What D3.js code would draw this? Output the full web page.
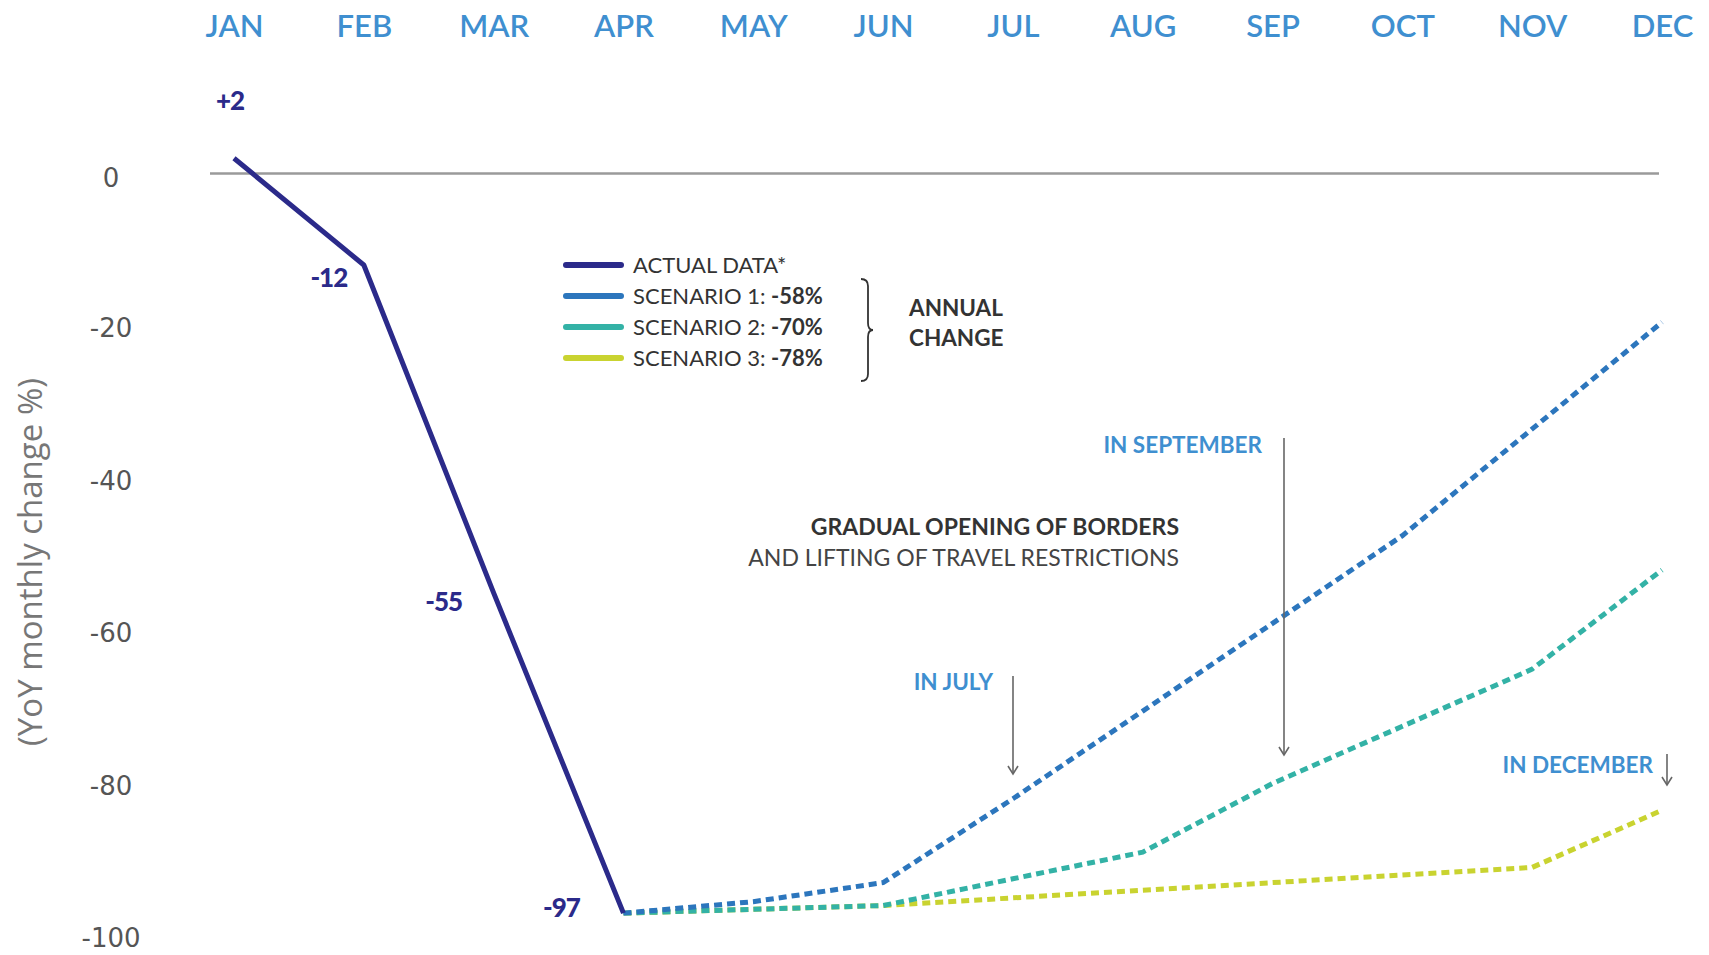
<!DOCTYPE html>
<html>
<head>
<meta charset="utf-8">
<script src="https://cdn.jsdelivr.net/npm/d3@7"></script>
<style>
  html, body { margin: 0; padding: 0; background: #fff; }
  svg { display: block; }
</style>
</head>
<body>
<svg id="chart" width="1709" height="955"></svg>
<script>
// ---- data ----
const months = ["JAN","FEB","MAR","APR","MAY","JUN","JUL","AUG","SEP","OCT","NOV","DEC"];
const actualMonths = ["JAN","FEB","MAR","APR"];
const actualValues = [2, -12, -55, -97];
const actualLabels = ["+2", "-12", "-55", "-97"];
const scenarioMonths = ["APR","MAY","JUN","JUL","AUG","SEP","OCT","NOV","DEC"];
const scenario1 = [-97, -95.5, -93, -82, -70.5, -59, -47.5, -33.5, -19.5];
const scenario2 = [-97, -96.5, -96, -92.5, -89, -80, -72.5, -65, -52];
const scenario3 = [-97, -96.5, -96, -95, -94, -93, -92, -91, -83.5];
const yTicks = [0, -20, -40, -60, -80, -100];
const legendNames = ["ACTUAL DATA*", "SCENARIO 1: ", "SCENARIO 2: ", "SCENARIO 3: "];
const legendValues = ["", "-58%", "-70%", "-78%"];
const annotations = [
  {text: "IN JULY", month: "JUL"},
  {text: "IN SEPTEMBER", month: "SEP"},
  {text: "IN DECEMBER", month: "DEC"}
];

// ---- styles ----
const C_ACTUAL = "#2b2a8a";
const C_S1 = "#2c76bd";
const C_S2 = "#33b2a6";
const C_S3 = "#c9d330";
const C_MONTH = "#3f8fd0";
const FONT = "Lato, 'Open Sans', sans-serif";

const svg = d3.select("#chart");

const x = d3.scalePoint().domain(months).range([234, 1662]);
const y = d3.scaleLinear().domain([-100, 0]).range([936, 173.5]);

// month axis on top
const xAxis = svg.append("g")
  .attr("transform", "translate(0,37)")
  .call(d3.axisTop(x).tickSize(0).tickPadding(0));
xAxis.select(".domain").remove();
xAxis.selectAll("text")
  .attr("y", 0).attr("dy", 0)
  .attr("fill", C_MONTH)
  .style("font-family", FONT)
  .style("font-size", "31px")
  .style("font-weight", "600");

// y axis labels
const yAxis = svg.append("g")
  .attr("transform", "translate(111,0)")
  .call(d3.axisLeft(y).tickValues(yTicks).tickSize(0).tickPadding(0).tickFormat(d => String(d)));
yAxis.select(".domain").remove();
yAxis.selectAll("text")
  .attr("x", 0).attr("dy", "0.42em")
  .attr("text-anchor", "middle")
  .attr("fill", "#555")
  .style("font-family", "'DejaVu Sans', sans-serif")
  .style("font-size", "26px");
yAxis.selectAll("text").each(function(d){ if (d === 0) d3.select(this).attr("dy","0.5em"); });

// y axis title
svg.append("text")
  .attr("transform", `translate(42,562) rotate(-90)`)
  .attr("text-anchor", "middle")
  .attr("fill", "#777")
  .style("font-family", "'Open Sans', sans-serif")
  .style("font-size", "33px")
  .text("(YoY monthly change %)");

// zero line
svg.append("line")
  .attr("x1", x("JAN") - 24).attr("x2", x("DEC") - 3)
  .attr("y1", y(0)).attr("y2", y(0))
  .attr("stroke", "#9a9a9a").attr("stroke-width", 2.5);

// scenario lines
const line = d3.line().x(d => x(d[0])).y(d => y(d[1]));
const scen = [
  {vals: scenario3, color: C_S3},
  {vals: scenario2, color: C_S2},
  {vals: scenario1, color: C_S1}
];
scen.forEach(s => {
  svg.append("path")
    .datum(scenarioMonths.map((m, i) => [m, s.vals[i]]))
    .attr("d", line)
    .attr("fill", "none")
    .attr("stroke", s.color)
    .attr("stroke-width", 5)
    .attr("stroke-dasharray", "8,5");
});

// actual line
svg.append("path")
  .datum(actualMonths.map((m, i) => [m, actualValues[i]]))
  .attr("d", line)
  .attr("fill", "none")
  .attr("stroke", C_ACTUAL)
  .attr("stroke-width", 5)
  .attr("stroke-linejoin", "round");

// data labels
const labelOffsets = [[-4, -48], [-35, 22], [-50, 18], [-62, 4]];
svg.selectAll(".dlabel")
  .data(actualMonths)
  .enter().append("text")
  .attr("x", (m, i) => x(m) + labelOffsets[i][0])
  .attr("y", (m, i) => y(actualValues[i]) + labelOffsets[i][1])
  .attr("text-anchor", "middle")
  .attr("fill", C_ACTUAL)
  .style("font-family", FONT)
  .style("font-size", "26px")
  .style("font-weight", "900")
  .style("letter-spacing", "-1px")
  .text((m, i) => actualLabels[i]);

// legend
const legColors = [C_ACTUAL, C_S1, C_S2, C_S3];
const leg = svg.append("g").attr("transform", "translate(566,265)");
legendNames.forEach((n, i) => {
  const g = leg.append("g").attr("transform", `translate(0,${i * 31})`);
  g.append("line").attr("x1", 0).attr("x2", 55).attr("y1", 0).attr("y2", 0)
    .attr("stroke", legColors[i]).attr("stroke-width", 6).attr("stroke-linecap", "round");
  const t = g.append("text").attr("x", 67).attr("y", 0).attr("dy", "0.36em")
    .attr("fill", "#333")
    .style("font-family", FONT)
    .style("font-size", "22px");
  t.append("tspan").text(n);
  if (legendValues[i]) t.append("tspan").style("font-weight", "bold").text(legendValues[i]);
});
// bracket
svg.append("path")
  .attr("d", "M861,279 Q868,279 868,286 L868,323 Q868,330 873,330 Q868,330 868,337 L868,374 Q868,381 861,381")
  .attr("fill", "none").attr("stroke", "#333").attr("stroke-width", 1.8);
svg.append("text")
  .attr("x", 909).attr("y", 316)
  .attr("fill", "#333")
  .style("font-family", FONT).style("font-size", "22.5px").style("font-weight", "bold")
  .text("ANNUAL");
svg.append("text")
  .attr("x", 909).attr("y", 346)
  .attr("fill", "#333")
  .style("font-family", FONT).style("font-size", "22.5px").style("font-weight", "bold")
  .text("CHANGE");

// central annotation
svg.append("text")
  .attr("x", 1179).attr("y", 535)
  .attr("text-anchor", "end")
  .attr("fill", "#333")
  .style("font-family", FONT).style("font-size", "23px").style("font-weight", "bold")
  .text("GRADUAL OPENING OF BORDERS");
svg.append("text")
  .attr("x", 1179).attr("y", 566)
  .attr("text-anchor", "end")
  .attr("fill", "#444")
  .style("font-family", FONT).style("font-size", "23px")
  .text("AND LIFTING OF TRAVEL RESTRICTIONS");

// month annotations with arrows
const arrowSpecs = {
  JUL: {top: 676, bottom: 774, ty: 690, dx: -20},
  SEP: {top: 438, bottom: 755, ty: 453, dx: -22},
  DEC: {top: 754, bottom: 785, ty: 773, dx: -14}
};
const arrowX = {JUL: 1013, SEP: 1284, DEC: 1667};
annotations.forEach(a => {
  const s = arrowSpecs[a.month];
  const ax = arrowX[a.month];
  svg.append("text")
    .attr("x", ax + s.dx).attr("y", s.ty)
    .attr("text-anchor", "end")
    .attr("fill", C_MONTH)
    .style("font-family", FONT).style("font-size", "22.5px").style("font-weight", "bold")
    .text(a.text);
  svg.append("line")
    .attr("x1", ax).attr("x2", ax).attr("y1", s.top).attr("y2", s.bottom)
    .attr("stroke", "#666").attr("stroke-width", 1.6);
  svg.append("path")
    .attr("d", `M${ax-5},${s.bottom-8} L${ax},${s.bottom} L${ax+5},${s.bottom-8}`)
    .attr("fill", "none").attr("stroke", "#666").attr("stroke-width", 1.6);
});
</script>
</body>
</html>
